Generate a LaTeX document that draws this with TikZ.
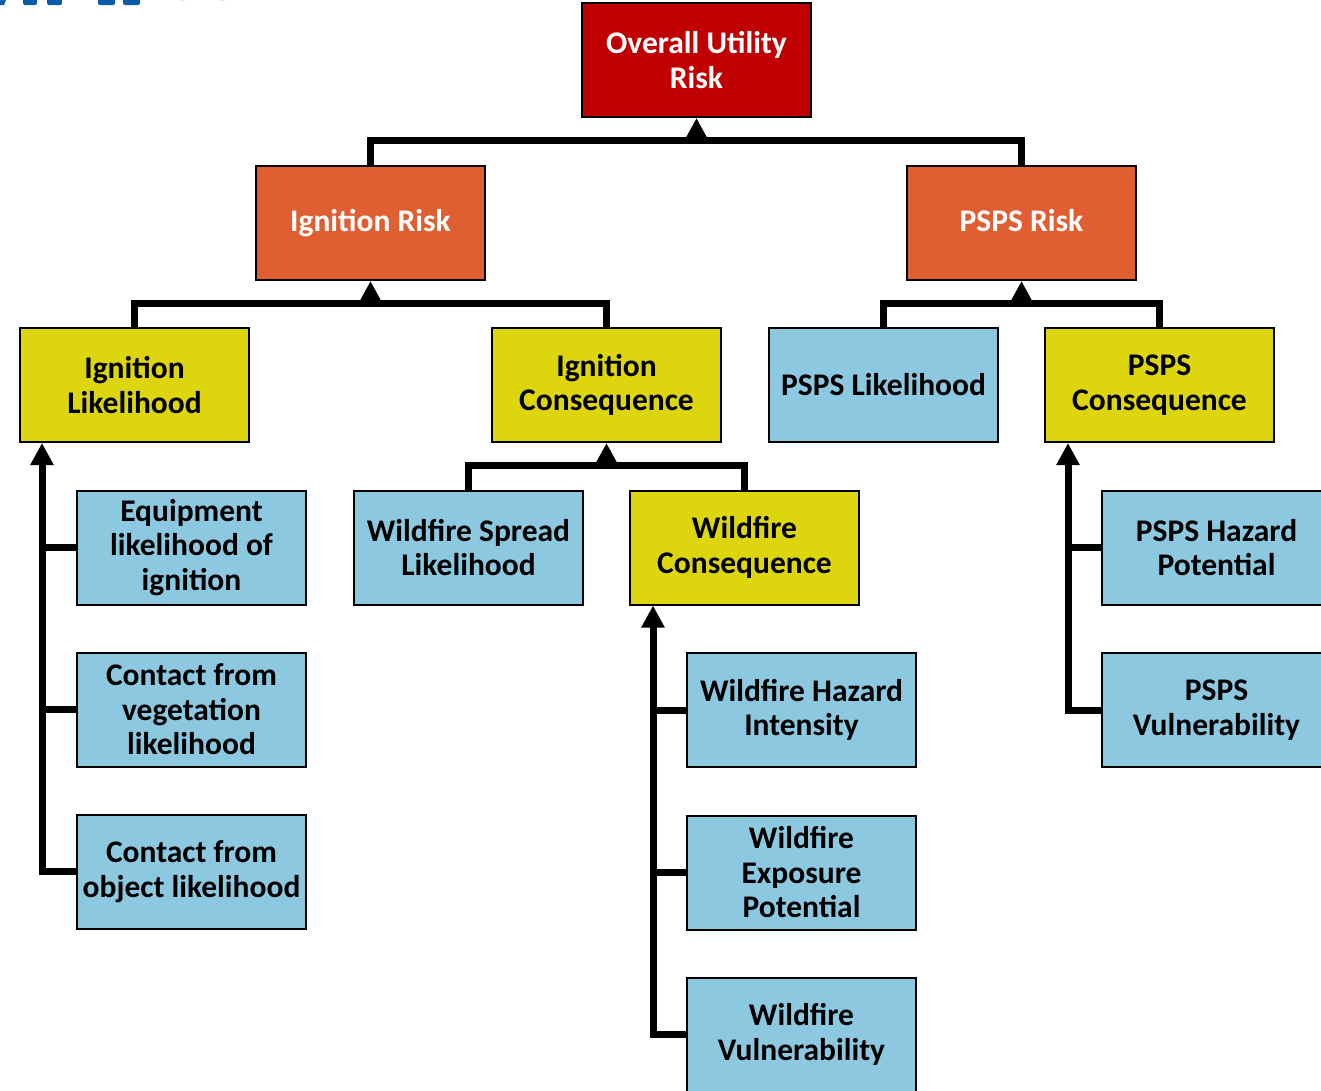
\documentclass[tikz,border=0pt]{standalone}
\usepackage{fontspec}
\setmainfont{Carlito}
\usetikzlibrary{arrows.meta}
\definecolor{riskred}{HTML}{C00000}
\definecolor{riskorange}{HTML}{E05F32}
\definecolor{riskyellow}{HTML}{DDD60E}
\definecolor{riskblue}{HTML}{8CC8E0}
\definecolor{titleblue}{HTML}{0A5CA8}
\tikzset{
  box/.style={draw=black, line width=2pt, minimum width=229pt, minimum height=114pt,
    inner sep=2pt, align=center, font=\fontsize{31.5}{34.5}\selectfont\bfseries},
  topbox/.style={box, fill=riskred, text=white},
  midbox/.style={box, fill=riskorange, text=white},
  ybox/.style={box, fill=riskyellow, text=black},
  bbox/.style={box, fill=riskblue, text=black},
  conn/.style={line width=7pt, line join=miter, draw=black},
  upto/.style={conn, -{Triangle[width=22pt,length=22pt]}},
}
\begin{document}
\begin{tikzpicture}[x=1pt,y=-1pt]
\useasboundingbox (0,0) rectangle (1321,1090);
\clip (0,0) rectangle (1321,1090);

% lower edge of the slide title, cut off at the top
\begin{scope}[fill=titleblue]
  \fill (0,0) -- (6,0) -- (4,5) -- (0,5) -- cycle;
  \fill[rounded corners=2pt] (23,-4) rectangle (37,5);
  \fill[rounded corners=2pt] (47,-4) rectangle (62,5);
  \fill[rounded corners=2pt] (98,-4) rectangle (115,5);
  \fill[rounded corners=2pt] (123,-4) rectangle (140,5);
  \fill (181,0) arc[start angle=180, end angle=360, x radius=22, y radius=9]
        -- (220,0) arc[start angle=0, end angle=-180, x radius=17.5, y radius=3] -- cycle;
\end{scope}

% level 0
\node[topbox] (o) at (696.5,60) {Overall Utility\\Risk};
% level 1
\node[midbox] (ir) at (370.5,223) {Ignition Risk};
\node[midbox] (pr) at (1021.5,223) {PSPS Risk\vphantom{g}};
% level 2
\node[ybox] (il) at (134.5,385) {Ignition\\Likelihood};
\node[ybox] (ic) at (606.5,385) {Ignition\\Consequence};
\node[bbox] (pl) at (883.5,385) {PSPS Likelihood};
\node[ybox] (pc) at (1159.5,385) {PSPS\\Consequence};
% ignition likelihood drivers
\node[bbox] (e1) at (191.5,547.5) {Equipment\\likelihood of\\ignition};
\node[bbox] (e2) at (191.5,709.5) {Contact from\\vegetation\\likelihood};
\node[bbox] (e3) at (191.5,871.5) {Contact from\\object likelihood};
% ignition consequence drivers
\node[bbox] (ws) at (468.5,547.5) {Wildfire Spread\\Likelihood};
\node[ybox] (wc) at (744.5,547.5) {Wildfire\\Consequence};
\node[bbox] (w1) at (801.5,710) {Wildfire Hazard\\Intensity};
\node[bbox] (w2) at (801.5,872.5) {Wildfire\\Exposure\\Potential};
\node[bbox] (w3) at (801.5,1034.5) {Wildfire\\Vulnerability};
% PSPS consequence drivers
\node[bbox] (p1) at (1216.5,547.5) {PSPS Hazard\\Potential};
\node[bbox] (p2) at (1216.5,710) {PSPS\\Vulnerability};

% tree connectors
\draw[conn] (ir.north) -- ++(0,-25) -| (pr.north);
\draw[upto] ([yshift=-24pt]o.south) -- (o.south);

\draw[conn] (il.north) -- ++(0,-24) -| (ic.north);
\draw[upto] ([yshift=-24pt]ir.south) -- (ir.south);

\draw[conn] (pl.north) -- ++(0,-24) -| (pc.north);
\draw[upto] ([yshift=-24pt]pr.south) -- (pr.south);

\draw[conn] (ws.north) -- ++(0,-24) -| (wc.north);
\draw[upto] ([yshift=-24pt]ic.south) -- (ic.south);

% side spines
\coordinate (ilspine) at ([xshift=23pt]il.south west);
\draw[upto] (e3.west) -| (ilspine);
\draw[conn] (e1.west) -- (e1.west -| ilspine);
\draw[conn] (e2.west) -- (e2.west -| ilspine);

\coordinate (wcspine) at ([xshift=24pt]wc.south west);
\draw[upto] (w3.west) -| (wcspine);
\draw[conn] (w1.west) -- (w1.west -| wcspine);
\draw[conn] (w2.west) -- (w2.west -| wcspine);

\coordinate (pcspine) at ([xshift=24pt]pc.south west);
\draw[upto] (p2.west) -| (pcspine);
\draw[conn] (p1.west) -- (p1.west -| pcspine);
\end{tikzpicture}
\end{document}
